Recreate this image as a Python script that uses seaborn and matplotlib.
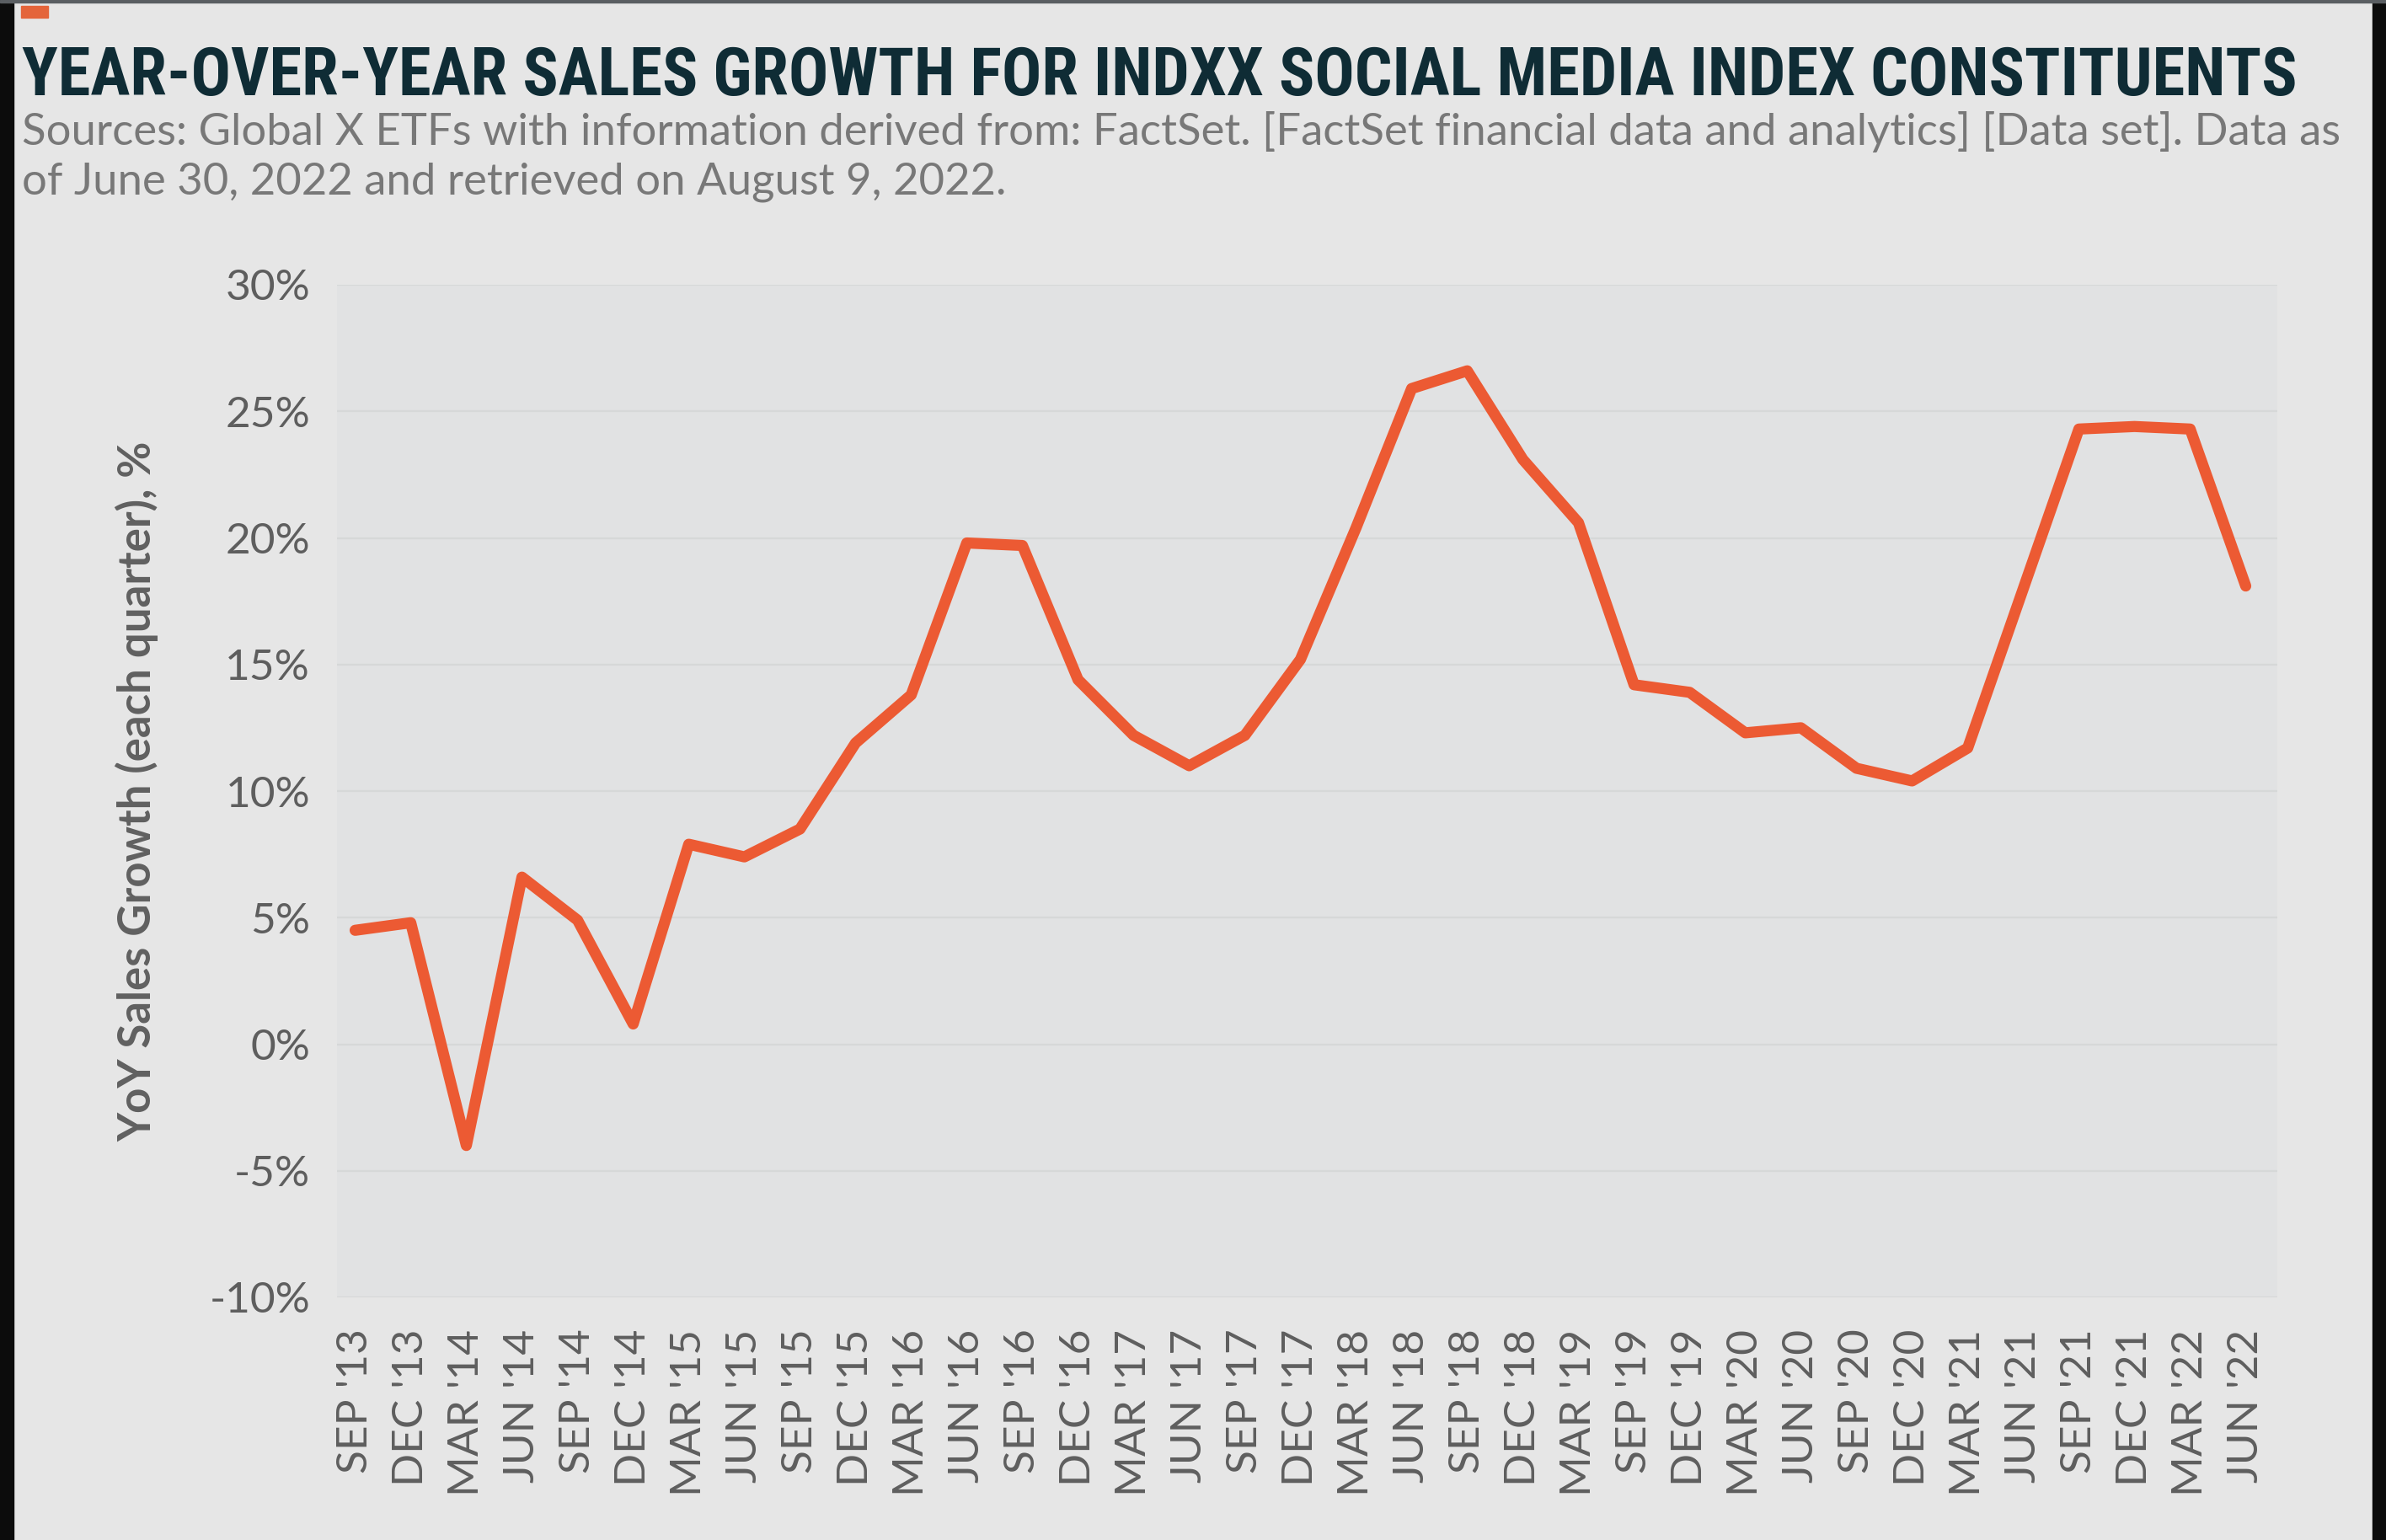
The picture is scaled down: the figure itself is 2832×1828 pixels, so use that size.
import numpy as np
import pandas as pd
import matplotlib
matplotlib.use("Agg")
import matplotlib.pyplot as plt
import seaborn as sns
from matplotlib import font_manager
from matplotlib.patches import Rectangle

# quarterly YoY sales growth (JUN '19 is not in the source)
quarters = ["SEP '13", "DEC '13", "MAR '14", "JUN '14", "SEP '14", "DEC '14",
            "MAR '15", "JUN '15", "SEP '15", "DEC '15", "MAR '16", "JUN '16",
            "SEP '16", "DEC '16", "MAR '17", "JUN '17", "SEP '17", "DEC '17",
            "MAR '18", "JUN '18", "SEP '18", "DEC '18", "MAR '19", "SEP '19",
            "DEC '19", "MAR '20", "JUN '20", "SEP '20", "DEC '20", "MAR '21",
            "JUN '21", "SEP '21", "DEC '21", "MAR '22", "JUN '22"]
growth = [4.5, 4.8, -4.0, 6.6, 4.9, 0.8,
          7.9, 7.4, 8.5, 11.9, 13.8, 19.8,
          19.7, 14.4, 12.2, 11.0, 12.2, 15.2,
          20.4, 25.9, 26.6, 23.1, 20.6, 14.2,
          13.9, 12.3, 12.5, 10.9, 10.4, 11.7,
          18.0, 24.3, 24.4, 24.3, 18.1]
y_ticks = [-10, -5, 0, 5, 10, 15, 20, 25, 30]

title = "YEAR-OVER-YEAR SALES GROWTH FOR INDXX SOCIAL MEDIA INDEX CONSTITUENTS"
source_1 = ("Sources: Global X ETFs with information derived from: FactSet. "
            "[FactSet financial data and analytics] [Data set]. Data as")
source_2 = "of June 30, 2022 and retrieved on August 9, 2022."
y_label = "YoY Sales Growth (each quarter), %"


def pick_font(names):
    for name in names:
        try:
            font_manager.findfont(font_manager.FontProperties(family=name),
                                  fallback_to_default=False)
            return name
        except ValueError:
            pass
    return "DejaVu Sans"


title_font = pick_font(["Liberation Sans Narrow", "DejaVu Sans Condensed",
                        "Roboto Condensed", "Liberation Sans"])
body_font = pick_font(["Lato", "Open Sans", "Liberation Sans"])

sns.set_theme(style="white")
plt.rcParams["font.family"] = [body_font, "DejaVu Sans"]

W, H = 2832, 1828
fig = plt.figure(figsize=(W / 100, H / 100), dpi=100)
fig.patch.set_facecolor("#e6e6e6")

# frame strips around the picture
fig.add_artist(Rectangle((0, 0), 16 / W, 1, transform=fig.transFigure,
                         color="#0c0c0c", zorder=0))
fig.add_artist(Rectangle((1 - 16 / W, 0), 16 / W, 1, transform=fig.transFigure,
                         color="#0c0c0c", zorder=0))
fig.add_artist(Rectangle((0, 1 - 3 / H), 1, 3 / H, transform=fig.transFigure,
                         color="#5a5e62", zorder=0))
fig.add_artist(Rectangle((25 / W, 1 - 21 / H), 32 / W, 14 / H,
                         transform=fig.transFigure, color="#e4643a", zorder=1))

t_title = fig.text(26 / W, 1 - 113 / H, title, family=[title_font, "DejaVu Sans"],
                   weight="bold", fontsize=55, color="#0f2c35", ha="left",
                   va="baseline")
t_src1 = fig.text(26 / W, 1 - 172 / H, source_1, fontsize=39, color="#787878",
                  ha="left", va="baseline")
t_src2 = fig.text(26 / W, 1 - 230 / H, source_2, fontsize=39, color="#787878",
                  ha="left", va="baseline")

ax = fig.add_axes([400 / W, 1 - 1540 / H, 2303 / W, 1202 / H])
ax.set_facecolor("#e1e2e3")

df = pd.DataFrame({"pos": np.arange(len(quarters)), "growth": growth})
sns.lineplot(data=df, x="pos", y="growth", ax=ax, color="#ec5a33",
             linewidth=9.5, sort=False)
for line in ax.lines:
    line.set_solid_joinstyle("round")
    line.set_solid_capstyle("round")

ax.set_xlim(-0.326, len(quarters) - 1 + 0.568)
ax.set_ylim(-10, 30)
ax.set_yticks(y_ticks)
ax.set_yticklabels([f"{v}%" for v in y_ticks])
ax.set_xticks(df["pos"])
ax.set_xticklabels(quarters, rotation=90, va="top", ha="center")
ax.tick_params(axis="y", length=0, pad=23, labelsize=37, labelcolor="#5e5e5e")
ax.tick_params(axis="x", length=0, pad=27, labelsize=37, labelcolor="#5e5e5e")
ax.grid(axis="y", color="#d6d8d8", linewidth=1.6)
ax.grid(axis="x", visible=False)
ax.set_axisbelow(True)
for s in ax.spines.values():
    s.set_visible(False)
ax.set_xlabel("")
ax.set_ylabel("")

fig.text(163 / W, 1 - 939 / H, y_label, rotation=90, fontsize=38,
         weight="bold", color="#606060", ha="center", va="center")

# fit the header lines to the widths they take in the reference
renderer = fig.canvas.get_renderer()
for txt, target in [(t_title, 2726 - 26), (t_src1, 2772 - 26)]:
    width = txt.get_window_extent(renderer).width
    txt.set_fontsize(txt.get_fontsize() * target / width)
t_src2.set_fontsize(t_src1.get_fontsize())

fig.savefig("out.png", dpi=100, facecolor=fig.get_facecolor())
